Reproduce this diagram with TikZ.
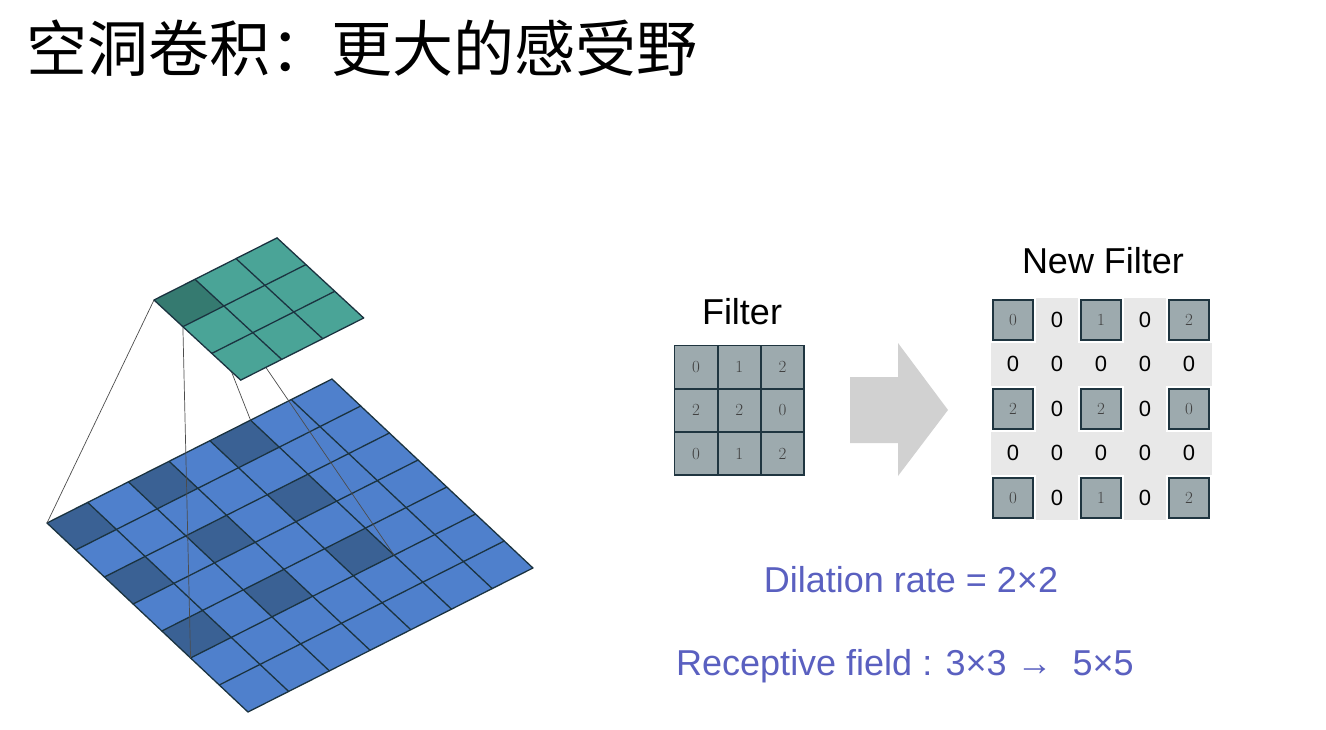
\documentclass[tikz,border=0pt]{standalone}
\usepackage{fontspec}
\setmainfont{Liberation Sans}
\newfontfamily\cjk{Noto Sans CJK SC}
\newfontfamily\lmr{Latin Modern Roman}
\usepackage{xcolor}
\definecolor{bl}{HTML}{4F80CC}
\definecolor{bld}{HTML}{3A6194}
\definecolor{tl}{HTML}{4AA497}
\definecolor{tld}{HTML}{357A70}
\definecolor{gl}{HTML}{1B3340}
\definecolor{fc}{HTML}{9DAAAE}
\definecolor{fb}{HTML}{1F3540}
\definecolor{zb}{HTML}{E8E8E8}
\definecolor{txt}{HTML}{5A60C0}
\begin{document}
\begin{tikzpicture}[x=1pt,y=1pt,
  grid/.style={draw=gl,line width=1.3pt,line cap=round},
  link/.style={draw=black!70,line width=0.7pt},
  fcell/.style={draw=fb,line width=1.8pt,fill=fc,minimum size=40pt,inner sep=0pt,font=\lmr\fontsize{17}{17}\selectfont,text=black!75},
  zcell/.style={inner sep=0pt,font=\fontsize{22}{22}\selectfont},
  blue text/.style={text=txt,font=\fontsize{36}{36}\selectfont,inner sep=0pt}]
\useasboundingbox (0,0) rectangle (1326,-730);
% title
\node[anchor=west,inner sep=0pt,font=\cjk\fontsize{61}{61}\selectfont] (title) at (26,-48) {空洞卷积：更大的感受野};
% bottom grid
\begin{scope}[shift={(47,-523)},x={(28.71pt,-27pt)},y={(40.71pt,20.57pt)}]
  \fill[bl] (0,0) -- (7,0) -- (7,7) -- (0,7) -- cycle;
  \foreach \i in {0,2,4} \foreach \j in {0,2,4}
    \fill[bld] (\i,\j) -- ++(1,0) -- ++(0,1) -- ++(-1,0) -- cycle;
  \foreach \k in {0,...,7} {
    \draw[grid] (\k,0) -- (\k,7);
    \draw[grid] (0,\k) -- (7,\k);
  }
  \coordinate (b00) at (0,0); \coordinate (b50) at (5,0);
  \coordinate (b05) at (0,5); \coordinate (b55) at (5,5);
\end{scope}
\begin{scope}[shift={(154,-300)},x={(28.9pt,-26.7pt)},y={(41pt,20.7pt)}]
  \coordinate (t00) at (0,0); \coordinate (t10) at (1,0);
  \coordinate (t01) at (0,1); \coordinate (t11) at (1,1);
\end{scope}
\draw[link] (t00) -- (b00); \draw[link] (t10) -- (b50);
\draw[link] (t01) -- (b05); \draw[link] (t11) -- (b55);
% top grid
\begin{scope}[shift={(154,-300)},x={(28.9pt,-26.7pt)},y={(41pt,20.7pt)}]
  \fill[tl] (0,0) -- (3,0) -- (3,3) -- (0,3) -- cycle;
  \fill[tld] (0,0) -- (1,0) -- (1,1) -- (0,1) -- cycle;
  \foreach \k in {0,...,3} {
    \draw[grid] (\k,0) -- (\k,3);
    \draw[grid] (0,\k) -- (3,\k);
  }
\end{scope}
% Filter
\node[font=\fontsize{36}{36}\selectfont,inner sep=0pt] (ft) at (742,-312) {Filter};
\foreach \r/\row in {0/{0,1,2},1/{2,2,0},2/{0,1,2}}{
  \foreach \v [count=\c from 0] in \row {
    \node[fcell,minimum size=43pt] (f\r\c) at (696+43.3*\c,-367-43.3*\r) {\v};
  }}
% arrow
\fill[black!18] (850,-377) -- (898,-377) -- (898,-343) -- (948,-410) -- (898,-476) -- (898,-443) -- (850,-443) -- cycle;
% New filter
\node[font=\fontsize{36}{36}\selectfont,inner sep=0pt] (nt) at (1103,-261) {New Filter};
\fill[zb] (991,-298) rectangle (1212,-520);
\foreach \r in {0,2,4}{
  \foreach \c in {0,2,4}{
    \fill[white] (991+44*\c-1,-298-44.4*\r+1) rectangle ++(44+2,-44-2);
  }}
\foreach \r/\a/\b/\c in {0/0/1/2,2/2/2/0,4/0/1/2}{
  \node[fcell,minimum size=40pt] (n\r0) at (1013,-320-44.4*\r) {\a};
  \node[fcell,minimum size=40pt] (n\r2) at (1101,-320-44.4*\r) {\b};
  \node[fcell,minimum size=40pt] (n\r4) at (1189,-320-44.4*\r) {\c};
  \node[zcell] (n\r1) at (1057,-320-44.4*\r) {0};
  \node[zcell] (n\r3) at (1145,-320-44.4*\r) {0};
}
\foreach \r in {1,3}{
  \foreach \c in {0,...,4}{
    \node[zcell] (n\r\c) at (1013+44*\c,-320-44.4*\r) {0};
  }}
% texts
\node[blue text] (dil) at (911,-580) {Dilation rate = 2×2};
\node[blue text,anchor=west] (rec) at (676,-666) {Receptive field : 3×3 →\ \ 5×5};
\end{tikzpicture}
\end{document}
